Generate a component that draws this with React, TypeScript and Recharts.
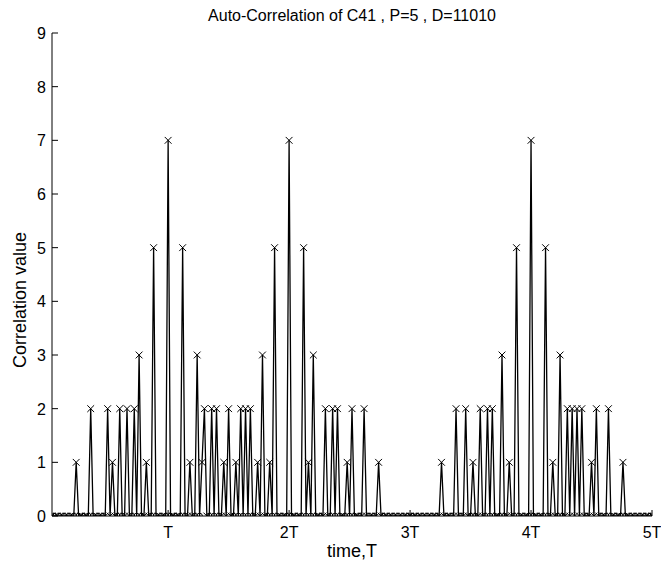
import { LineChart, Line, XAxis, YAxis } from "recharts";

// peak positions (in chips, T = 25 chips) and the correlation value read at each
const PEAK_TIME = [
  6, 9, 12.5, 13.5, 15, 16.5, 18, 19, 20.5, 22, 25, 28, 29.5, 31, 32, 32.5, 34, 35, 36.5, 37.5, 39,
  40, 41, 42, 43.5, 44.5, 46, 47, 50, 53, 54, 55, 57.5, 59, 60, 62, 63, 65.5, 68.5,
  81.5, 84.5, 86.5, 88, 89.5, 91, 92, 94, 95.5, 97, 100, 103, 104.5, 106, 107.5, 108.5, 109.5,
  110.5, 112.5, 113.5, 116, 119,
];
const PEAK_VALUE = [
  1, 2, 2, 1, 2, 2, 2, 3, 1, 5, 7, 5, 1, 3, 1, 2, 2, 2, 1, 2, 1,
  2, 2, 2, 1, 3, 1, 5, 7, 5, 1, 3, 2, 2, 2, 1, 2, 2, 1,
  1, 2, 2, 1, 2, 2, 2, 3, 1, 5, 7, 5, 1, 3, 2, 2, 2,
  2, 1, 2, 2, 1,
];

const X_TICKS = [25, 50, 75, 100, 125];
const X_TICK_LABELS = ["T", "2T", "3T", "4T", "5T"];
const Y_TICKS = [0, 1, 2, 3, 4, 5, 6, 7, 8, 9];

const T_START = 1;
const T_END = 125;
const T_STEP = 0.5;

const data: { t: number; v: number }[] = [];
for (let i = 0; T_START + i * T_STEP <= T_END; i++) {
  const t = T_START + i * T_STEP;
  const k = PEAK_TIME.indexOf(t);
  data.push({ t, v: k >= 0 ? PEAK_VALUE[k] : 0 });
}

const FONT = "'Liberation Sans', Arial, Helvetica, sans-serif";

function Marker(props: any) {
  const { cx, cy, payload } = props;
  if (cx == null || cy == null) return <g />;
  const isX = payload.v > 0 || Number.isInteger(payload.t);
  if (isX) {
    const s = 3.4;
    return (
      <g>
        <line x1={cx - s} y1={cy - s} x2={cx + s} y2={cy + s} stroke="#000" strokeWidth={1} />
        <line x1={cx - s} y1={cy + s} x2={cx + s} y2={cy - s} stroke="#000" strokeWidth={1} />
      </g>
    );
  }
  return <circle cx={cx} cy={cy} r={2.8} fill="none" stroke="#000" strokeWidth={1} />;
}

function BottomTick({ x, y, payload }: any) {
  const i = X_TICKS.indexOf(payload.value);
  return (
    <g>
      <line x1={x} y1={y} x2={x} y2={y - 6} stroke="#000" />
      <text x={x} y={y + 22} textAnchor="middle" fontSize={16} fontFamily={FONT} fill="#000">
        {X_TICK_LABELS[i]}
      </text>
    </g>
  );
}

function TopTick({ x, y }: any) {
  return <line x1={x} y1={y} x2={x} y2={y + 6} stroke="#000" />;
}

function LeftTick({ x, y, payload }: any) {
  return (
    <g>
      <line x1={x} y1={y} x2={x + 6} y2={y} stroke="#000" />
      <text x={x - 6} y={y + 6} textAnchor="end" fontSize={16} fontFamily={FONT} fill="#000">
        {payload.value}
      </text>
    </g>
  );
}

function RightTick({ x, y }: any) {
  return <line x1={x} y1={y} x2={x - 6} y2={y} stroke="#000" />;
}

export default function App() {
  return (
    <div style={{ position: "absolute", left: 0, top: 0, width: 661, height: 565, background: "#fff" }}>
      <LineChart width={661} height={565} data={data} margin={{ top: 33, right: 9, bottom: 0, left: 0 }}>
        <XAxis
          dataKey="t"
          type="number"
          domain={[T_START, T_END]}
          ticks={X_TICKS}
          interval={0}
          height={49}
          tickSize={0}
          tickMargin={0}
          tickLine={false}
          axisLine={{ stroke: "#000" }}
          tick={<BottomTick />}
          allowDataOverflow
        />
        <XAxis
          xAxisId="top"
          orientation="top"
          dataKey="t"
          type="number"
          domain={[T_START, T_END]}
          ticks={X_TICKS}
          interval={0}
          height={0}
          tickSize={0}
          tickMargin={0}
          tickLine={false}
          axisLine={{ stroke: "#000" }}
          tick={<TopTick />}
          allowDataOverflow
        />
        <YAxis
          type="number"
          domain={[0, 9]}
          ticks={Y_TICKS}
          interval={0}
          width={52}
          tickSize={0}
          tickMargin={0}
          tickLine={false}
          axisLine={{ stroke: "#000" }}
          tick={<LeftTick />}
          allowDataOverflow
        />
        <YAxis
          yAxisId="right"
          orientation="right"
          type="number"
          domain={[0, 9]}
          ticks={Y_TICKS}
          interval={0}
          width={0}
          tickSize={0}
          tickMargin={0}
          tickLine={false}
          axisLine={{ stroke: "#000" }}
          tick={<RightTick />}
          allowDataOverflow
        />
        <Line
          dataKey="v"
          type="linear"
          stroke="#000"
          strokeWidth={1.3}
          dot={(p: any) => <Marker key={`m-${p.index}`} {...p} />}
          activeDot={false}
          isAnimationActive={false}
        />
      </LineChart>
      <svg
        width={661}
        height={565}
        style={{ position: "absolute", left: 0, top: 0, pointerEvents: "none" }}
      >
        <text x={352} y={21} textAnchor="middle" fontSize={16} fontFamily={FONT} fill="#000">
          Auto-Correlation of C41 , P=5 , D=11010
        </text>
        <text x={352} y={557} textAnchor="middle" fontSize={18} fontFamily={FONT} fill="#000">
          time,T
        </text>
        <text
          x={26}
          y={300}
          textAnchor="middle"
          fontSize={18}
          fontFamily={FONT}
          fill="#000"
          transform="rotate(-90 26 300)"
        >
          Correlation value
        </text>
      </svg>
    </div>
  );
}
